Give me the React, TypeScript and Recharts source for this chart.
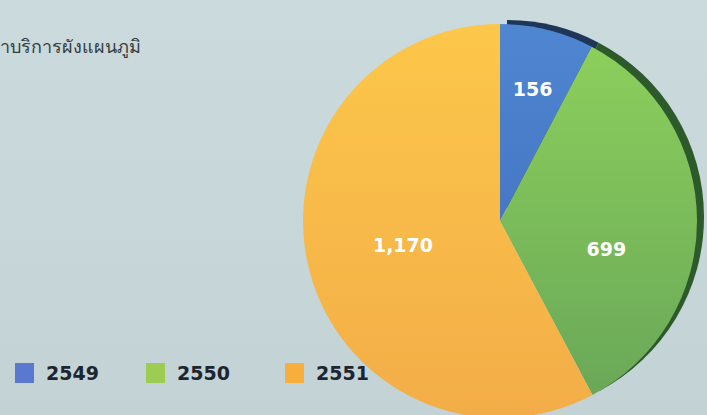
import { PieChart, Pie, Cell } from 'recharts';

const years = ['2549', '2550', '2551'];
const counts = [156, 699, 1170];
const countLabels = ['156', '699', '1,170'];

const sliceFill = ['url(#gBlue)', 'url(#gGreen)', 'url(#gOrange)'];
const rimFill = ['#1e3658', '#2d5a2b', 'transparent'];
const legendColor = ['#5a78d0', '#9ccd52', '#f7ae3c'];
// label radius / angle nudge per slice
const labelPos = [
  { r: 136, a: 0 },
  { r: 110, a: -15 },
  { r: 100, a: 0 },
];

const pieData = years.map((y, i) => ({ name: y, value: counts[i], label: countLabels[i] }));

const RAD = Math.PI / 180;

function SliceLabel(props: any) {
  const { cx, cy, midAngle, index } = props;
  const p = labelPos[index];
  const ang = (midAngle + p.a) * RAD;
  const x = cx + p.r * Math.cos(-ang);
  const y = cy + p.r * Math.sin(-ang);
  return (
    <text
      x={x}
      y={y}
      textAnchor="middle"
      dominantBaseline="central"
      fill="#ffffff"
      fontFamily="'DejaVu Sans', sans-serif"
      fontWeight="bold"
      fontSize={19}
    >
      {pieData[index].label}
    </text>
  );
}

export default function App() {
  return (
    <div
      style={{
        position: 'fixed',
        left: 0,
        top: 0,
        width: 707,
        height: 415,
        overflow: 'hidden',
        background: 'linear-gradient(180deg, #cbdadc 0%, #c7d7d9 60%, #c2d2d5 100%)',
      }}
    >
      <div
        style={{
          position: 'absolute',
          left: 0,
          top: 32,
          fontFamily: "'Noto Sans', 'DejaVu Sans', sans-serif",
          fontSize: 18,
          color: '#353c3e',
        }}
      >
        าบริการผังแผนภูมิ
      </div>

      <PieChart width={707} height={415} style={{ position: 'absolute', left: 0, top: 0 }}>
        <defs>
          <linearGradient id="gBlue" x1="0" y1="0" x2="0" y2="1">
            <stop offset="0%" stopColor="#4f86d2" />
            <stop offset="100%" stopColor="#4677c4" />
          </linearGradient>
          <linearGradient id="gGreen" x1="0" y1="0" x2="0" y2="1">
            <stop offset="0%" stopColor="#8ccf5c" />
            <stop offset="100%" stopColor="#6aa858" />
          </linearGradient>
          <linearGradient id="gOrange" x1="0" y1="0" x2="0" y2="1">
            <stop offset="0%" stopColor="#fcc74a" />
            <stop offset="100%" stopColor="#f3ad48" />
          </linearGradient>
        </defs>
        <Pie
          data={pieData}
          dataKey="value"
          cx={502}
          cy={212}
          outerRadius={197}
          startAngle={90}
          endAngle={-270}
          stroke="none"
          isAnimationActive={false}
          label={false}
          labelLine={false}
        >
          {pieData.map((d, i) => (
            <Cell key={d.name} fill={rimFill[i]} />
          ))}
        </Pie>
        <Pie
          data={pieData}
          dataKey="value"
          cx={495}
          cy={216}
          outerRadius={197}
          startAngle={90}
          endAngle={-270}
          stroke="none"
          isAnimationActive={false}
          label={SliceLabel}
          labelLine={false}
        >
          {pieData.map((d, i) => (
            <Cell key={d.name} fill={sliceFill[i]} />
          ))}
        </Pie>
      </PieChart>

      {pieData.map((d, i) => (
        <div
          key={d.name}
          style={{
            position: 'absolute',
            left: [15, 146, 285][i],
            top: 362,
            display: 'flex',
            alignItems: 'center',
            gap: 12,
          }}
        >
          <span style={{ width: 19, height: 20, background: legendColor[i], display: 'inline-block' }} />
          <span
            style={{
              fontFamily: "'DejaVu Sans', sans-serif",
              fontWeight: 'bold',
              fontSize: 19,
              color: '#1c2530',
            }}
          >
            {d.name}
          </span>
        </div>
      ))}
    </div>
  );
}
